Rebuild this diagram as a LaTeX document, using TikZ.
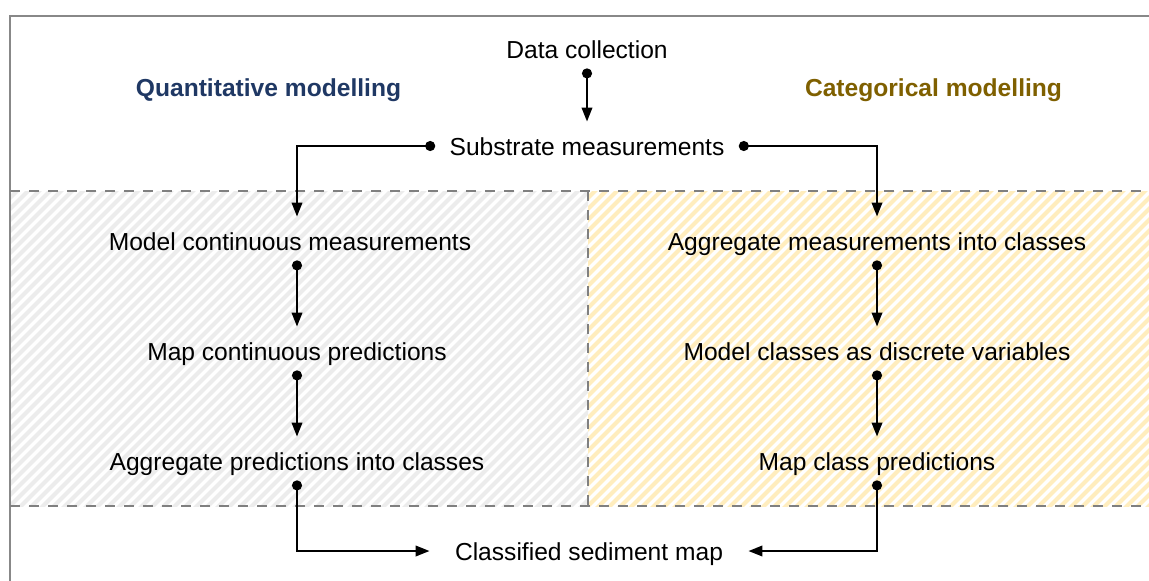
\documentclass[tikz,border=0pt]{standalone}
\usepackage{fontspec}
\setmainfont{Liberation Sans}
\usetikzlibrary{arrows.meta}
\definecolor{quantblue}{RGB}{31,56,100}
\definecolor{catgold}{RGB}{127,96,0}
\definecolor{hatchgrey}{RGB}{236,236,236}
\definecolor{hatchgold}{RGB}{255,237,190}
\definecolor{framegrey}{RGB}{136,136,136}
\definecolor{dashgrey}{RGB}{128,128,128}
\tikzset{
	stage/.style={inner xsep=9.5pt, inner ysep=0pt, minimum height=24pt, text height=10.2pt, text depth=0.8pt, font=\fontsize{12.3}{14}\selectfont},
	heading/.style={inner sep=0pt, font=\fontsize{12.3}{14}\selectfont\bfseries},
	flow/.style={line width=1.15pt, shorten <=-2.5pt, {Circle[length=5pt]}-{Triangle[length=7pt,width=5.2pt]}},
	frameline/.style={draw=framegrey, line width=1.1pt},
	divider/.style={draw=dashgrey, line width=1.4pt, dash pattern=on 5pt off 4.5pt},
	hatch/.style={line width=2pt}
}
\begin{document}
\begin{tikzpicture}[x=0.5pt,y=-0.5pt]
	\useasboundingbox (0,0) rectangle (1149,580);
	\clip (0,0) rectangle (1149,580);
	\fill[white] (0,0) rectangle (1149,580);
	% hatched regions
	\begin{scope}
		\clip (10,191) rectangle (588,506);
		\foreach \x in {-400,-389,...,700}
			\draw[hatch, hatchgrey] (\x,520) -- ++(340,-340);
	\end{scope}
	\begin{scope}
		\clip (588,191) rectangle (1160,506);
		\foreach \x in {200,211,...,1200}
			\draw[hatch, hatchgold] (\x,520) -- ++(340,-340);
	\end{scope}
	\draw[frameline] (10,600) -- (10,16) -- (1170,16);
	\draw[divider] (10,191) -- (1160,191);
	\draw[divider] (10,506) -- (1160,506);
	\draw[divider] (588,191) -- (588,506);

	\node[heading, text=quantblue] (qtitle) at (268.5,90) {Quantitative modelling};
	\node[heading, text=catgold] (ctitle) at (933.5,90) {Categorical modelling};

	\node[stage] (data) at (587,49) {Data collection};
	\node[stage] (subs) at (587,146) {Substrate measurements};

	\node[stage] (qmodel) at (290,241) {Model continuous measurements};
	\node[stage] (qmap) at (297,351) {Map continuous predictions};
	\node[stage] (qagg) at (297,461) {Aggregate predictions into classes};

	\node[stage] (cagg) at (877,241) {Aggregate measurements into classes};
	\node[stage] (cmodel) at (877,351) {Model classes as discrete variables};
	\node[stage] (cmap) at (877,461) {Map class predictions};

	\node[stage, inner xsep=12.5pt] (final) at (589,551) {Classified sediment map};

	\draw[flow] (data) -- (subs);
	\draw[flow] (subs.west) -| (qmap |- qmodel.north);
	\draw[flow] (subs.east) -| (cagg);
	\draw[flow] (qmap |- qmodel.south) -- (qmap);
	\draw[flow] (qmap) -- (qagg);
	\draw[flow] (cagg) -- (cmodel);
	\draw[flow] (cmodel) -- (cmap);
	\draw[flow] (qagg) |- (final);
	\draw[flow] (cmap) |- (final);
\end{tikzpicture}
\end{document}
